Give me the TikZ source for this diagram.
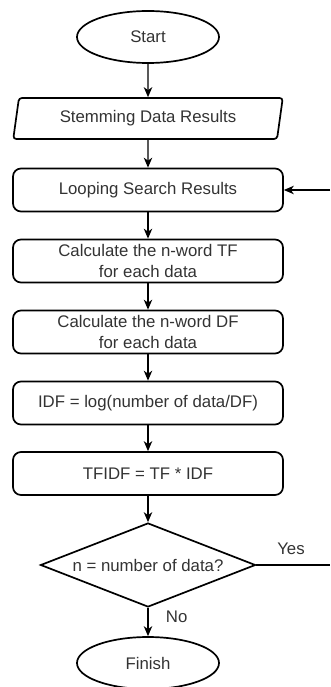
\documentclass[tikz,border=0pt]{standalone}
\usepackage{fontspec}
\setmainfont{Liberation Sans}
\usepackage{tikz}
\usetikzlibrary{arrows.meta,positioning,shapes.geometric,calc}

\tikzset{
  termnode/.style={draw, ellipse, line width=1.7pt, minimum width=142pt, minimum height=52pt, inner sep=0pt},
  iobox/.style={draw, trapezium, trapezium left angle=76, trapezium right angle=104, trapezium stretches=true,
    rounded corners=3pt, line width=1.7pt, minimum width=270pt, minimum height=41pt, inner sep=0pt},
  procbox/.style={draw, rounded corners=8pt, line width=1.7pt, minimum width=270pt, minimum height=43pt,
    inner sep=0pt, align=center},
  decnode/.style={draw, diamond, aspect=2.56, line width=1.7pt, minimum width=215pt, minimum height=84pt, inner sep=0pt},
  flow/.style={-{Stealth[length=10pt, width=8.5pt, inset=3pt]}, line width=1.2pt},
}

\begin{document}
\begin{tikzpicture}[x=1pt, y=-1pt, every node/.style={font=\fontsize{16.8}{21}\selectfont, text=black!80}]
    \useasboundingbox (0,0) rectangle (330,687);
    % flowchart
    \node[termnode] (start) at (148,37) {Start};
    \node[iobox] (stem) at (148,118.5) {Stemming Data Results};
    \node[procbox] (loop) at (148,190) {Looping Search Results};
    \node[procbox] (tf) at (148,261) {Calculate the n-word TF\\for each data};
    \node[procbox] (df) at (148,332) {Calculate the n-word DF\\for each data};
    \node[procbox] (idf) at (148,403) {IDF = log(number of data/DF)};
    \node[procbox] (tfidf) at (148,473.5) {TFIDF = TF * IDF};
    \node[decnode] (check) at (148,565) {n = number of data?};
    \node[termnode] (finish) at (148,663) {Finish};
    \coordinate (yesend) at (330,565);
    \coordinate (backin) at (330,190);
    \draw[flow] (start) -- (stem);
    \draw[flow] (stem) -- (loop);
    \draw[flow] (loop) -- (tf);
    \draw[flow] (tf) -- (df);
    \draw[flow] (df) -- (idf);
    \draw[flow] (idf) -- (tfidf);
    \draw[flow] (tfidf) -- (check);
    \draw[flow] (check) -- node[pos=0.3, right=14pt] (nolbl) {No} (finish);
    \draw[line width=1.2pt] (check.east) -- node[pos=0.47, above=6pt] (yeslbl) {Yes} (yesend);
    \draw[flow] (backin) -- (loop.east);
\end{tikzpicture}
\end{document}
